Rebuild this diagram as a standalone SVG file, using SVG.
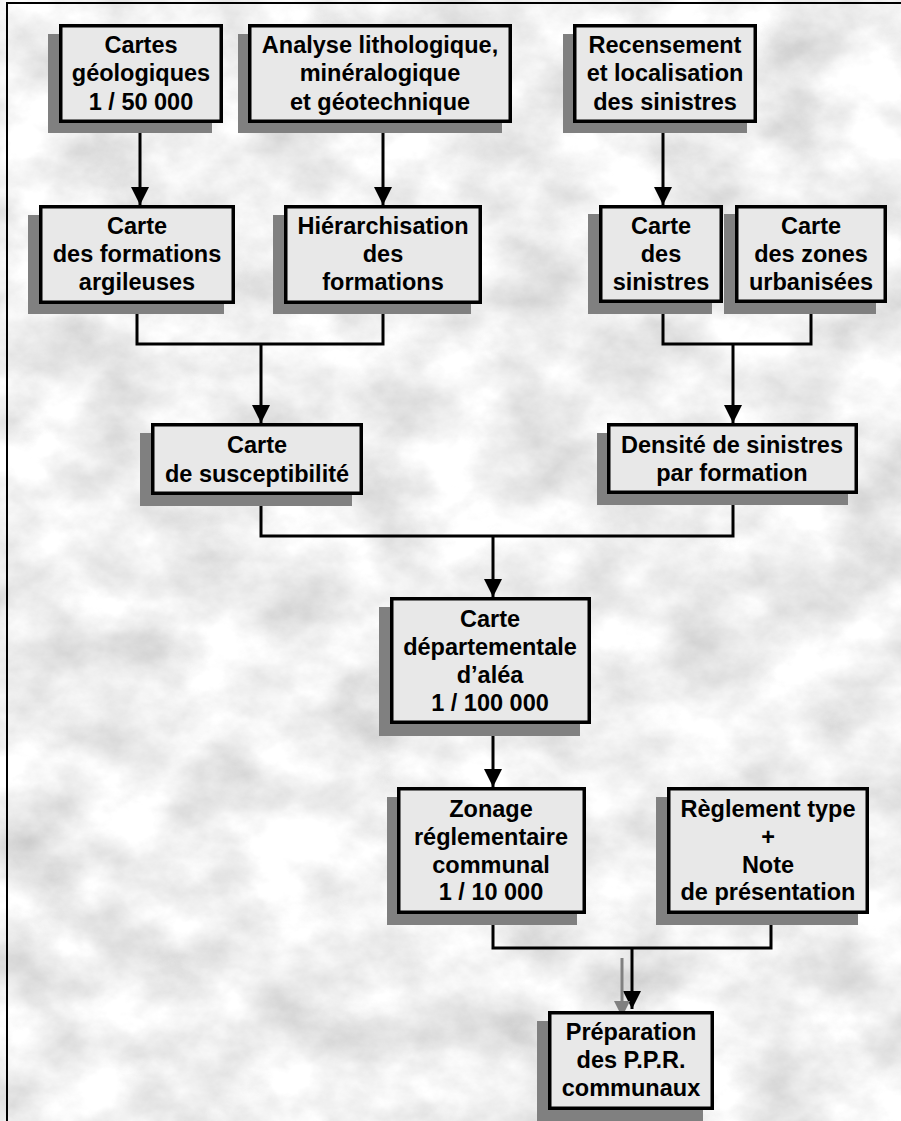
<svg xmlns="http://www.w3.org/2000/svg" width="901" height="1121" viewBox="0 0 901 1121">
<style>
.bx{fill:#e8e8e8;stroke:#000;stroke-width:3.5}
.sh{fill:#808080}
.t{font-family:"Liberation Sans",Arial,sans-serif;font-weight:bold;font-size:23.5px;fill:#000;text-anchor:middle}
.c{fill:none;stroke:#000;stroke-width:3;stroke-linejoin:miter}
.g{fill:none;stroke:#808080;stroke-width:3}
</style>
<defs>
<filter id="tex" x="0" y="0" width="100%" height="100%" color-interpolation-filters="sRGB">
<feTurbulence type="fractalNoise" baseFrequency="0.012 0.016" numOctaves="6" seed="7"/>
<feColorMatrix type="matrix" values="0.32 0 0 0 0.78  0.32 0 0 0 0.78  0.32 0 0 0 0.78  0 0 0 0 1"/>
</filter>
<marker id="ah" viewBox="0 0 18 18" refX="18" refY="9" markerWidth="18" markerHeight="18" markerUnits="userSpaceOnUse" orient="auto">
<path d="M0,0 L18,9 L0,18 Z" fill="#000"/>
</marker>
<marker id="ahg" viewBox="0 0 18 18" refX="18" refY="9" markerWidth="16" markerHeight="16" markerUnits="userSpaceOnUse" orient="auto">
<path d="M0,0 L18,9 L0,18 Z" fill="#808080"/>
</marker>
</defs>
<rect x="0" y="0" width="901" height="1121" fill="#f4f4f4" filter="url(#tex)"/>
<path d="M7,1121 V3 H901" fill="none" stroke="#000" stroke-width="2"/>

<g id="connectors">
<path class="c" d="M140,123 V205" marker-end="url(#ah)"/>
<path class="c" d="M383,123 V205" marker-end="url(#ah)"/>
<path class="c" d="M663,123 V205" marker-end="url(#ah)"/>
<path class="c" d="M137,304 V344 H383 V304"/>
<path class="c" d="M261,344 V423" marker-end="url(#ah)"/>
<path class="c" d="M663,303 V344 H811 V303"/>
<path class="c" d="M733,344 V423" marker-end="url(#ah)"/>
<path class="c" d="M261,495 V536 H733 V494"/>
<path class="c" d="M493,536 V597" marker-end="url(#ah)"/>
<path class="c" d="M493,724 V787" marker-end="url(#ah)"/>
<path class="c" d="M493,914 V948 H771 V914"/>
<path class="c" d="M632,948 V1009" marker-end="url(#ah)"/>
<path class="g" d="M622,958 V1017" marker-end="url(#ahg)"/>
</g>

<g id="n1">
<rect class="sh" x="48" y="34" width="164" height="99"/>
<rect class="bx" x="60.75" y="25.75" width="160.5" height="95.5"/>
<text class="t" x="141" y="53">Cartes</text>
<text class="t" x="141" y="81">géologiques</text>
<text class="t" x="141" y="110">1 / 50 000</text>
</g>
<g id="n2">
<rect class="sh" x="238" y="34" width="264" height="99"/>
<rect class="bx" x="249.75" y="25.75" width="260.5" height="95.5"/>
<text class="t" x="380" y="53">Analyse lithologique,</text>
<text class="t" x="380" y="81">minéralogique</text>
<text class="t" x="380" y="110">et géotechnique</text>
</g>
<g id="n3">
<rect class="sh" x="563" y="34" width="184" height="99"/>
<rect class="bx" x="574.75" y="25.75" width="180.5" height="95.5"/>
<text class="t" x="665" y="53">Recensement</text>
<text class="t" x="665" y="81">et localisation</text>
<text class="t" x="665" y="110">des sinistres</text>
</g>
<g id="n4">
<rect class="sh" x="28" y="215" width="196" height="99"/>
<rect class="bx" x="40.75" y="206.75" width="192.5" height="95.5"/>
<text class="t" x="137" y="234">Carte</text>
<text class="t" x="137" y="262">des formations</text>
<text class="t" x="137" y="290">argileuses</text>
</g>
<g id="n5">
<rect class="sh" x="273" y="215" width="198" height="99"/>
<rect class="bx" x="285.75" y="206.75" width="194.5" height="95.5"/>
<text class="t" x="383" y="234">Hiérarchisation</text>
<text class="t" x="383" y="262">des</text>
<text class="t" x="383" y="290">formations</text>
</g>
<g id="n6">
<rect class="sh" x="588" y="214" width="124" height="100"/>
<rect class="bx" x="600.75" y="206.75" width="120.5" height="94.5"/>
<text class="t" x="661" y="234">Carte</text>
<text class="t" x="661" y="262">des</text>
<text class="t" x="661" y="290">sinistres</text>
</g>
<g id="n7">
<rect class="sh" x="724" y="214" width="152" height="100"/>
<rect class="bx" x="736.75" y="206.75" width="148.5" height="94.5"/>
<text class="t" x="811" y="234">Carte</text>
<text class="t" x="811" y="262">des zones</text>
<text class="t" x="811" y="290">urbanisées</text>
</g>
<g id="n8">
<rect class="sh" x="140" y="433" width="212" height="73"/>
<rect class="bx" x="152.75" y="424.75" width="208.5" height="68.5"/>
<text class="t" x="257" y="453">Carte</text>
<text class="t" x="257" y="482">de susceptibilité</text>
</g>
<g id="n9">
<rect class="sh" x="597" y="433" width="251" height="72"/>
<rect class="bx" x="608.75" y="424.75" width="247.5" height="67.5"/>
<text class="t" x="732" y="453">Densité de sinistres</text>
<text class="t" x="732" y="481">par formation</text>
</g>
<g id="n10">
<rect class="sh" x="379" y="607" width="201" height="129"/>
<rect class="bx" x="391.75" y="598.75" width="197.5" height="123.5"/>
<text class="t" x="490" y="627">Carte</text>
<text class="t" x="490" y="655">départementale</text>
<text class="t" x="490" y="683">d’aléa</text>
<text class="t" x="490" y="711">1 / 100 000</text>
</g>
<g id="n11">
<rect class="sh" x="387" y="797" width="190" height="128"/>
<rect class="bx" x="398.75" y="788.75" width="185.5" height="123.5"/>
<text class="t" x="491" y="817">Zonage</text>
<text class="t" x="491" y="845">réglementaire</text>
<text class="t" x="491" y="873">communal</text>
<text class="t" x="491" y="900">1 / 10 000</text>
</g>
<g id="n12">
<rect class="sh" x="656" y="797" width="202" height="128"/>
<rect class="bx" x="668.75" y="788.75" width="198.5" height="123.5"/>
<text class="t" x="768" y="817">Règlement type</text>
<text class="t" x="768" y="845">+</text>
<text class="t" x="768" y="873">Note</text>
<text class="t" x="768" y="900">de présentation</text>
</g>
<g id="n13">
<rect class="sh" x="537" y="1021" width="166" height="100"/>
<rect class="bx" x="549.75" y="1012.75" width="162.5" height="95.5"/>
<text class="t" x="631" y="1040">Préparation</text>
<text class="t" x="631" y="1068">des P.P.R.</text>
<text class="t" x="631" y="1096">communaux</text>
</g>
</svg>
